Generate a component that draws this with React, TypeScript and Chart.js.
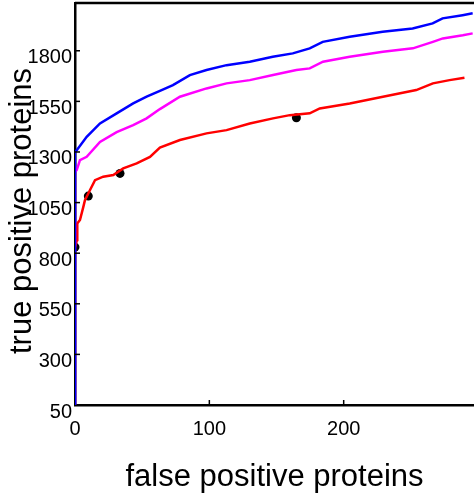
import React, { useEffect, useRef } from "react";
import { Chart, registerables } from "chart.js";

Chart.register(...registerables);

const xTicks = [0, 100, 200];
const yTicks = [50, 300, 550, 800, 1050, 1300, 1550, 1800];

const blueX = [0, 0, 1.3, 8.7, 18.6, 31, 43.3, 53.3, 63.2, 72.9, 85.5, 97.9, 112.8, 130.1, 147.2, 162.1, 174.7, 184.4, 204.5, 229, 251.3, 266.2, 273.6, 288.5, 296];
const blueY = [50, 1300, 1309, 1375, 1441, 1491, 1540, 1573, 1602, 1630, 1680, 1705, 1729, 1746, 1770, 1787, 1812, 1844, 1869, 1894, 1910, 1935, 1960, 1976, 1985];

const magentaX = [0, 0, 1.3, 3.7, 8.7, 18.6, 31, 43.3, 53.3, 63.2, 78.1, 97.9, 112.8, 130.1, 147.4, 164.8, 174.7, 184.6, 204.5, 229.2, 251.5, 266.4, 273.8, 288.7, 296];
const magentaY = [50, 1200, 1211, 1260, 1276, 1350, 1398, 1433, 1466, 1512, 1573, 1614, 1639, 1655, 1680, 1705, 1713, 1746, 1770, 1795, 1812, 1844, 1861, 1877, 1886];

const redX = [0, 1.5, 1.7, 3.7, 6.2, 7.4, 11.2, 14.9, 21, 28.5, 35.9, 45.9, 55.8, 63.2, 78.1, 97.9, 112.8, 130.1, 147.4, 159.9, 174.7, 182.2, 204.5, 229.2, 254, 266.4, 278.8, 289.9];
const redY = [830, 865, 947, 964, 1029, 1062, 1112, 1161, 1178, 1186, 1219, 1244, 1276, 1322, 1359, 1392, 1408, 1441, 1466, 1482, 1491, 1515, 1540, 1573, 1606, 1639, 1655, 1667];

const dotX = [0, 9.9, 33.5, 164.8];
const dotY = [830, 1082, 1194, 1469];

const X_MIN = 0;
const X_MAX = 297;
const Y_MIN = 50;
const Y_MAX = 2036;

const X_TITLE = "false positive proteins";
const Y_TITLE = "true positive proteins";

const FONT = "'Liberation Sans', Arial, Helvetica, sans-serif";

const toPts = (xs: number[], ys: number[]) => xs.map((x, i) => ({ x, y: ys[i] }));

const zeroPad = (scale: any) => {
  scale.paddingTop = 0;
  scale.paddingBottom = 0;
  scale.paddingLeft = 0;
  scale.paddingRight = 0;
};

const decorations = {
  id: "decorations",
  afterDraw(chart: any) {
    const { ctx, chartArea, scales } = chart;
    ctx.save();
    ctx.strokeStyle = "#000";
    ctx.lineWidth = 1.5;
    yTicks.forEach((v) => {
      if (v === Y_MIN) return;
      const p = scales.y.getPixelForValue(v);
      ctx.beginPath();
      ctx.moveTo(chartArea.left, p);
      ctx.lineTo(chartArea.left + 5, p);
      ctx.stroke();
    });
    xTicks.forEach((v) => {
      if (v === X_MIN) return;
      const p = scales.x.getPixelForValue(v);
      ctx.beginPath();
      ctx.moveTo(p, chartArea.bottom);
      ctx.lineTo(p, chartArea.bottom - 5);
      ctx.stroke();
    });
    ctx.lineWidth = 2.5;
    ctx.beginPath();
    ctx.moveTo(chartArea.left, chartArea.top);
    ctx.lineTo(chartArea.right, chartArea.top);
    ctx.stroke();
    // y-axis title
    ctx.fillStyle = "#000";
    ctx.font = `31px ${FONT}`;
    ctx.textAlign = "center";
    ctx.textBaseline = "middle";
    ctx.translate(22, 211);
    ctx.rotate(-Math.PI / 2);
    ctx.fillText(Y_TITLE, 0, 0);
    ctx.restore();
  },
};

export default function App() {
  const ref = useRef<HTMLCanvasElement | null>(null);

  useEffect(() => {
    document.body.style.margin = "0";
    const canvas = ref.current;
    if (!canvas) return;
    const chart = new Chart(canvas, {
      type: "line",
      data: {
        datasets: [
          {
            label: "blue",
            data: toPts(blueX, blueY),
            borderColor: "#0000ff",
            borderWidth: 2.5,
            pointRadius: 0,
            tension: 0,
          },
          {
            label: "magenta",
            data: toPts(magentaX, magentaY),
            borderColor: "#ff00ff",
            borderWidth: 2.5,
            pointRadius: 0,
            tension: 0,
          },
          {
            label: "red",
            data: toPts(redX, redY),
            borderColor: "#ff0000",
            borderWidth: 2.5,
            pointRadius: 0,
            tension: 0,
          },
          {
            label: "dots",
            data: toPts(dotX, dotY),
            showLine: false,
            pointRadius: 4.5,
            pointBackgroundColor: "#000",
            pointBorderColor: "#000",
            pointBorderWidth: 0,
          },
        ],
      },
      options: {
        responsive: false,
        animation: false,
        layout: { autoPadding: false, padding: { top: 3, left: 0, right: 0, bottom: 0 } },
        plugins: {
          legend: { display: false },
          tooltip: { enabled: false },
        },
        scales: {
          x: {
            type: "linear",
            min: X_MIN,
            max: X_MAX,
            afterBuildTicks: (scale: any) => {
              scale.ticks = xTicks.map((v) => ({ value: v }));
            },
            afterFit: (scale: any) => {
              scale.height = 93;
              zeroPad(scale);
            },
            grid: { display: false, drawTicks: false },
            border: { display: true, color: "#000", width: 2.5 },
            ticks: {
              color: "#000",
              font: { family: FONT, size: 20 },
              padding: 12,
              maxRotation: 0,
              callback: (v: any) => String(v),
            },
            title: {
              display: true,
              text: X_TITLE,
              color: "#000",
              font: { family: FONT, size: 31 },
              padding: { top: 0, bottom: 2.4 },
            },
          },
          y: {
            type: "linear",
            min: Y_MIN,
            max: Y_MAX,
            afterBuildTicks: (scale: any) => {
              scale.ticks = yTicks.map((v) => ({ value: v }));
            },
            afterFit: (scale: any) => {
              scale.width = 75;
              zeroPad(scale);
            },
            grid: { display: false, drawTicks: false },
            border: { display: true, color: "#000", width: 2.5 },
            ticks: {
              color: "#000",
              font: { family: FONT, size: 20 },
              padding: 3,
              labelOffset: 7,
              callback: (v: any) => String(v),
            },
            title: { display: false },
          },
        },
      },
      plugins: [decorations],
    });
    return () => chart.destroy();
  }, []);

  return <canvas ref={ref} width={474} height={498} style={{ display: "block" }} />;
}
